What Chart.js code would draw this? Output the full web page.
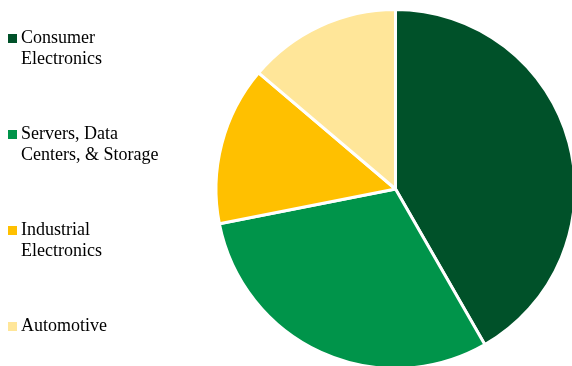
<html>
<head>
<title>Segments</title>
<script src="https://cdn.jsdelivr.net/npm/chart.js@4"></script>
<style>
    body { margin: 0; background: #fff; }
    .wrap { position: relative; width: 572px; height: 366px; overflow: hidden; }
    canvas { display: block; position: absolute; left: 0; top: 0; }
    #legend {
        position: absolute; left: 0; top: 0;
        font-family: "Liberation Serif", "Times New Roman", serif;
        font-size: 18px; line-height: 21px; color: #000;
    }
    .item { position: absolute; left: 21px; white-space: nowrap; }
    .box { position: absolute; left: -13px; width: 9px; height: 9px; }
</style>
</head>
<body>
<div class="wrap">
    <canvas id="myChart" width="572" height="366"></canvas>
    <div id="legend"></div>
</div>
<script>
    // data (share of total, %)
    let aLabels = [
        ["Consumer", "Electronics"],
        ["Servers, Data", "Centers, & Storage"],
        ["Industrial", "Electronics"],
        ["Automotive"]
    ];
    let aShares = [41.7, 30.2, 14.3, 13.8];
    let aColors = ["#005129", "#00944a", "#ffc000", "#ffe699"];

    // legend at the left, one entry every 96px
    let legendDiv = document.getElementById("legend");
    for (let i = 0; i < aLabels.length; i++) {
        let item = document.createElement("div");
        item.className = "item";
        item.style.top = (27 + i * 96) + "px";
        let box = document.createElement("div");
        box.className = "box";
        box.style.top = "7px";
        box.style.background = aColors[i];
        item.appendChild(box);
        item.appendChild(document.createTextNode(aLabels[i][0]));
        for (let j = 1; j < aLabels[i].length; j++) {
            item.appendChild(document.createElement("br"));
            item.appendChild(document.createTextNode(aLabels[i][j]));
        }
        legendDiv.appendChild(item);
    }

    let ctx = document.getElementById("myChart").getContext("2d");
    let myChart = new Chart(ctx, {
        type: "pie",
        data: {
            labels: aLabels.map(function (l) { return l.join(" "); }),
            datasets: [{
                data: aShares,
                backgroundColor: aColors,
                borderColor: "#fff",
                borderWidth: 3,
                clip: false
            }]
        },
        options: {
            responsive: false,
            animation: false,
            devicePixelRatio: 1,
            radius: 179.5,
            layout: { padding: { left: 219, top: 12, right: 0, bottom: 0 } },
            plugins: {
                legend: { display: false },
                tooltip: { enabled: false }
            }
        }
    });
</script>
</body>
</html>
